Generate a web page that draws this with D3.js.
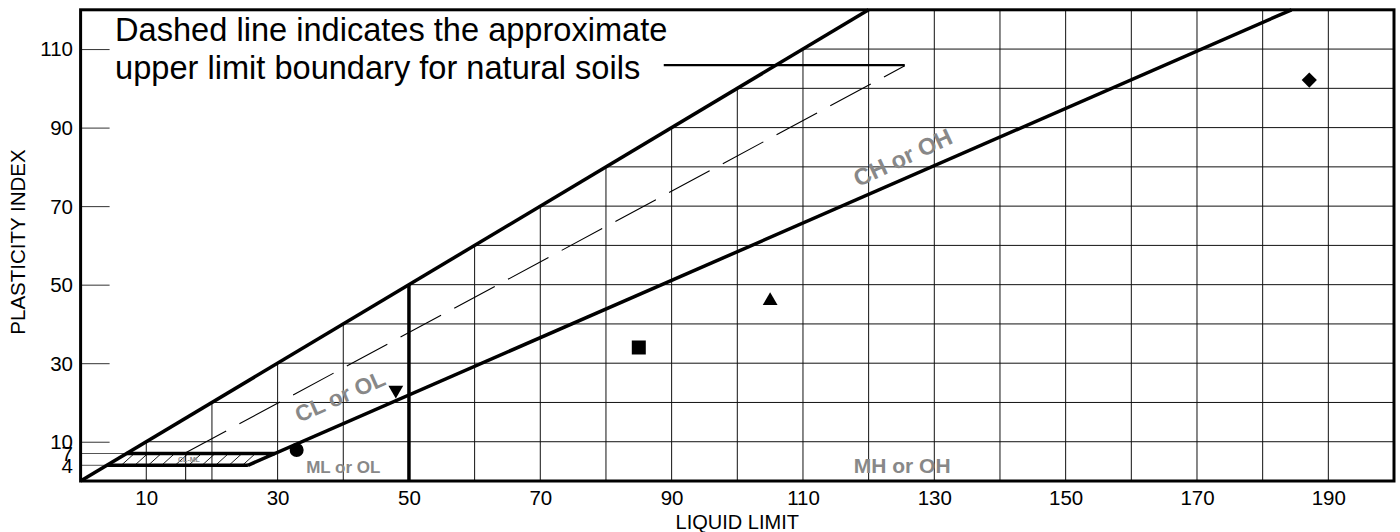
<!DOCTYPE html>
<html><head><meta charset="utf-8">
<script src="https://cdn.jsdelivr.net/npm/d3@7"></script>
<style>body{margin:0;background:#fff}svg{display:block}text{font-family:"Liberation Sans",Arial,sans-serif}</style>
</head><body>
<svg id="c" width="1400" height="532"></svg>
<script>
// ---- data ----
const xTickValues = [10,30,50,70,90,110,130,150,170,190];
const yTickValues = [4,7,10,30,50,70,90,110];
const gridLL = [10,20,30,40,50,60,70,80,90,100,110,120,130,140,150,160,170,180,190];
const gridPI = [10,20,30,40,50,60,70,80,90,100,110];
const shortGridPI = [4,7];
const sampleLL = [32.9, 48.0, 85.0, 105.0, 187.1];
const samplePI = [7.9, 23.2, 34.0, 45.9, 102.1];
const sampleSymbol = ["circle","triangleDown","square","triangle","diamond"];
const upperLine = [[0,0],[120,120]];
const aLine = [[25.48,4],[184.4,120]];
const ll50Line = [[50,0],[50,50]];
const clmlTop = [[7,7],[29.59,7]];
const clmlBottom = [[4,4],[25.48,4]];
const clmlZone = [[4,4],[7,7],[29.59,7],[25.48,4]];
const uVertical = [[16,0],[16,7]];
const uLine = [[16,7.2],[125.5,105.75]];
const leader = [[88.8,105.9],[125.5,105.9]];
const gridRegion = [[0,0],[120,120],[200,120],[200,0]];
const zoneLabels = [
  {text:"CL or OL", ll:39.5, pi:21.6, rot:-23.7, size:22.5},
  {text:"CH or OH", ll:125.2, pi:82.4, rot:-25, size:23.5},
  {text:"ML or OL", ll:40.0, pi:3.6, rot:0, size:17},
  {text:"MH or OH", ll:125.1, pi:3.8, rot:0, size:21},
  {text:"CL-ML", ll:16.5, pi:5.5, rot:0, size:7}
];
const noteLines = ["Dashed line indicates the approximate","upper limit boundary for natural soils"];
const notePI = [112, 102.4];
const noteLL = 5.25;

// ---- scales ----
const svg = d3.select("#c");
const x = d3.scaleLinear().domain([0,200]).range([80.6,1394]);
const y = d3.scaleLinear().domain([0,120]).range([481,9.8]);
const line = d3.line().x(d=>x(d[0])).y(d=>y(d[1]));

svg.append("clipPath").attr("id","gridclip").append("path")
  .attr("d", line(gridRegion)+"Z");
svg.append("clipPath").attr("id","zoneclip").append("path")
  .attr("d", line(clmlZone)+"Z");

// grid
const g = svg.append("g").attr("clip-path","url(#gridclip)");
g.selectAll(".vx").data(gridLL).join("line")
  .attr("x1",d=>x(d)).attr("x2",d=>x(d)).attr("y1",y(0)).attr("y2",y(120))
  .attr("stroke","#111").attr("stroke-width",1);
g.selectAll(".hy").data(gridPI).join("line")
  .attr("x1",x(0)).attr("x2",x(200)).attr("y1",d=>y(d)).attr("y2",d=>y(d))
  .attr("stroke","#111").attr("stroke-width",1);
svg.selectAll(".sh").data(shortGridPI).join("line")
  .attr("x1",x(0)).attr("x2",d=>x(d)).attr("y1",d=>y(d)).attr("y2",d=>y(d))
  .attr("stroke","#555").attr("stroke-width",1);

// y ticks drawn inward
const yAxis = d3.axisRight(y).tickValues(yTickValues).tickSize(29).tickFormat("");
const ya = svg.append("g").attr("transform",`translate(${x(0)},0)`).call(yAxis);
ya.select(".domain").remove();
ya.selectAll(".tick line").attr("stroke","#333").attr("stroke-width",1)
  .filter(d=>d<10).remove();
// y tick labels
svg.selectAll(".yl").data(yTickValues).join("text")
  .attr("x",73).attr("y",d=>y(d)).attr("dy","0.36em")
  .attr("text-anchor","end").attr("font-size",20.5).text(d=>d);
// x tick labels
const xAxis = d3.axisBottom(x).tickValues(xTickValues).tickSize(0).tickPadding(9);
const xa = svg.append("g").attr("transform",`translate(0,${y(0)})`).call(xAxis);
xa.select(".domain").remove();
xa.selectAll("text").attr("font-size",20.5).attr("font-family","Liberation Sans, Arial, sans-serif").attr("fill","#000");

// hatch in CL-ML zone
const hatchStarts = d3.range(-2, 32, 2.05);
svg.append("g").attr("clip-path","url(#zoneclip)")
  .selectAll("line").data(hatchStarts).join("line")
  .attr("x1",d=>x(d)).attr("y1",y(4))
  .attr("x2",d=>x(d)+13).attr("y2",y(7))
  .attr("stroke","#000").attr("stroke-width",0.9);

// U-line parts
svg.append("path").attr("d",line(uVertical)).attr("stroke","#000").attr("stroke-width",1).attr("fill","none");
svg.append("path").attr("d",line(uLine)).attr("stroke","#000").attr("stroke-width",1.1)
  .attr("fill","none").attr("stroke-dasharray","46,15");

// boundary lines
[upperLine,aLine,ll50Line,clmlTop,clmlBottom].forEach(p=>{
  svg.append("path").attr("d",line(p)).attr("stroke","#000").attr("stroke-width",3.5)
    .attr("fill","none").attr("stroke-linecap","butt");
});
// leader
svg.append("path").attr("d",line(leader)).attr("stroke","#000").attr("stroke-width",2.2).attr("fill","none");

// zone labels
zoneLabels.forEach(l=>{
  svg.append("text").attr("transform",`translate(${x(l.ll)},${y(l.pi)}) rotate(${l.rot})`)
    .attr("text-anchor","middle").attr("dy","0.35em")
    .attr("font-size",l.size).attr("font-weight","bold").attr("fill","#888").text(l.text);
});

// frame
svg.append("rect").attr("x",x(0)).attr("y",y(120)).attr("width",x(200)-x(0)).attr("height",y(0)-y(120))
  .attr("fill","none").attr("stroke","#000").attr("stroke-width",3);

// samples
const symMap = {circle:[d3.symbolCircle,154,0],triangleDown:[d3.symbolTriangle,95,180],
  square:[d3.symbolSquare,196,0],triangle:[d3.symbolTriangle,95,0],diamond:[d3.symbolSquare,115,45]};
svg.selectAll(".pt").data(sampleLL).join("path")
  .attr("d",(d,i)=>d3.symbol(symMap[sampleSymbol[i]][0],symMap[sampleSymbol[i]][1])())
  .attr("transform",(d,i)=>`translate(${x(d)},${y(samplePI[i])}) rotate(${symMap[sampleSymbol[i]][2]})`)
  .attr("fill","#000");

// annotation
svg.selectAll(".note").data(noteLines).join("text")
  .attr("x",x(noteLL)).attr("y",(d,i)=>y(notePI[i]))
  .attr("font-size",32.6).attr("fill","#000").text(d=>d);

// axis titles
svg.append("text").attr("x",x(100)).attr("y",529).attr("text-anchor","middle")
  .attr("font-size",20).text("LIQUID LIMIT");
svg.append("text").attr("transform","translate(25,242) rotate(-90)").attr("text-anchor","middle")
  .attr("font-size",20.5).text("PLASTICITY INDEX");
</script>
</body></html>
